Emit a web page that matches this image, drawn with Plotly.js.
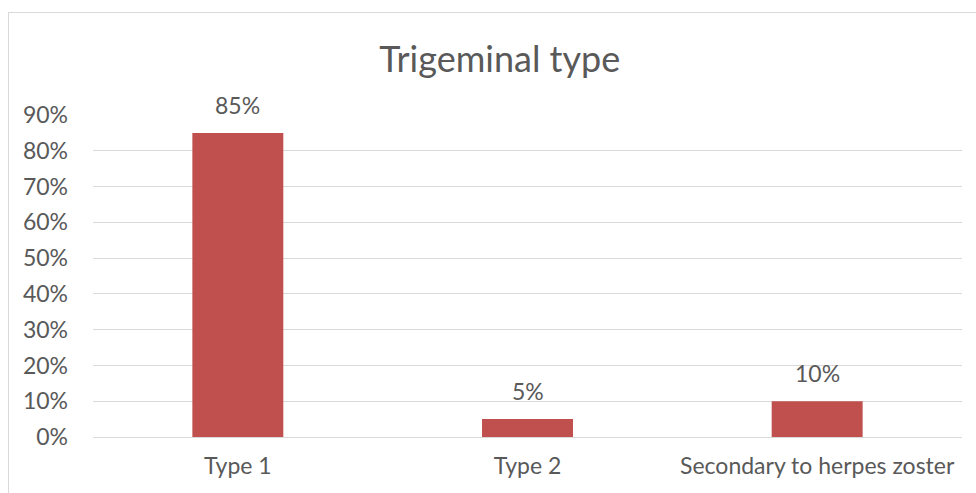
<!DOCTYPE html>
<html>
<head>
<meta charset="utf-8">
<script src="https://cdn.plot.ly/plotly-3.0.1.min.js"></script>
<style>
  html, body { margin: 0; padding: 0; width: 976px; height: 493px; overflow: hidden; background: #fff; }
  #frame { position: absolute; left: 8px; top: 12px; width: 1200px; height: 800px; border: 1px solid #d9d9d9; box-sizing: border-box; }
  #chart { position: absolute; left: 0; top: 0; width: 976px; height: 493px; }
</style>
</head>
<body>
<div id="frame"></div>
<div id="chart"></div>
<script>
const chartTitle = "Trigeminal type";
const categories = ["Type 1", "Type 2", "Secondary to herpes zoster"];
const values = [0.85, 0.05, 0.10];
const yTickValues = [0, 0.1, 0.2, 0.3, 0.4, 0.5, 0.6, 0.7, 0.8, 0.9];
const yTickLabels = ["0%", "10%", "20%", "30%", "40%", "50%", "60%", "70%", "80%", "90%"];

const fontFamily = "Lato, 'Open Sans', sans-serif";
const textColor = "#595959";

const trace = {
  type: "bar",
  x: categories,
  y: values,
  marker: { color: "#c0504d" },
  width: 0.314,
  hoverinfo: "none"
};

const annotations = categories.map((c, i) => ({
  x: c,
  y: values[i],
  xref: "x",
  yref: "y",
  text: Math.round(values[i] * 100) + "%",
  showarrow: false,
  yanchor: "bottom",
  yshift: 12,
  font: { family: fontFamily, size: 23, color: textColor }
}));

const layout = {
  width: 976,
  height: 493,
  paper_bgcolor: "rgba(0,0,0,0)",
  plot_bgcolor: "rgba(0,0,0,0)",
  margin: { l: 93, r: 14, t: 115, b: 56 },
  showlegend: false,
  title: {
    text: chartTitle,
    font: { family: fontFamily, size: 36, color: textColor },
    x: 0.512,
    xanchor: "center",
    y: 0.88,
    yref: "container",
    yanchor: "middle"
  },
  xaxis: {
    type: "category",
    showgrid: false,
    showline: false,
    zeroline: false,
    ticks: "",
    ticklabelstandoff: 13,
    tickfont: { family: fontFamily, size: 23, color: textColor },
    fixedrange: true
  },
  yaxis: {
    range: [0, 0.9],
    tickvals: yTickValues,
    ticktext: yTickLabels,
    showgrid: true,
    gridcolor: "#d9d9d9",
    gridwidth: 1,
    zeroline: true,
    zerolinecolor: "#d9d9d9",
    zerolinewidth: 1,
    showline: false,
    ticks: "",
    ticklabelstandoff: 24,
    tickfont: { family: fontFamily, size: 23, color: textColor },
    fixedrange: true
  },
  annotations: annotations
};

Plotly.newPlot("chart", [trace], layout, { displayModeBar: false, staticPlot: true });
</script>
</body>
</html>
